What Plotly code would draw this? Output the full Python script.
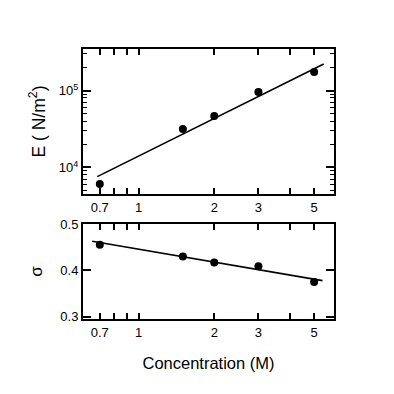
import math
import plotly.graph_objects as go

# ---- data ----
conc = [0.7, 1.5, 2, 3, 5]
modulus = [6.1e3, 3.16e4, 4.66e4, 9.6e4, 1.74e5]
poisson = [0.455, 0.430, 0.417, 0.409, 0.375]

fit_conc_E = [0.684, 5.46]
fit_E = [7.6e3, 2.21e5]
fit_conc_s = [0.653, 5.4]
fit_s = [0.4626, 0.3777]

x_tickvals = [0.7, 1, 2, 3, 5]
x_ticktext = ["0.7", "1", "2", "3", "5"]
x_minorvals = [0.8, 0.9, 4]
e_tickvals = [1e4, 1e5]
e_ticktext = ["10<sup>4</sup>", "10<sup>5</sup>"]
e_minorvals = [5e3, 6e3, 7e3, 8e3, 9e3, 2e4, 3e4, 4e4, 5e4, 6e4, 7e4, 8e4, 9e4, 2e5, 3e5]
s_tickvals = [0.3, 0.4, 0.5]
s_ticktext = ["0.3", "0.4", "0.5"]

FONT = "Liberation Sans, Arial, sans-serif"

fig = go.Figure()
fig.add_trace(go.Scatter(x=fit_conc_E, y=fit_E, mode="lines",
                         line=dict(color="black", width=1.6), xaxis="x", yaxis="y"))
fig.add_trace(go.Scatter(x=conc, y=modulus, mode="markers",
                         marker=dict(color="black", size=8), xaxis="x", yaxis="y"))
fig.add_trace(go.Scatter(x=fit_conc_s, y=fit_s, mode="lines",
                         line=dict(color="black", width=1.6), xaxis="x2", yaxis="y2"))
fig.add_trace(go.Scatter(x=conc, y=poisson, mode="markers",
                         marker=dict(color="black", size=8), xaxis="x2", yaxis="y2"))

axis_common = dict(showline=True, linecolor="black", linewidth=2, mirror="ticks",
                   ticks="inside", tickcolor="black", tickwidth=1.5,
                   showgrid=False, zeroline=False,
                   tickfont=dict(family=FONT, size=13, color="black"))

x_minor = dict(tickmode="array", tickvals=x_minorvals, ticks="inside",
               ticklen=6, tickcolor="black", tickwidth=1.5)

xr = [math.log10(0.6), math.log10(6)]

fig.update_layout(
    width=394, height=394,
    margin=dict(l=75, r=68, t=41, b=83),
    paper_bgcolor="white", plot_bgcolor="white",
    showlegend=False,
    font=dict(family=FONT, color="black"),
    xaxis=dict(type="log", range=xr, domain=[0, 1], anchor="y",
               tickmode="array", tickvals=x_tickvals, ticktext=x_ticktext,
               ticklen=6, minor=x_minor, **axis_common),
    yaxis=dict(type="log", range=[3.655, 5.54], domain=[0.463, 1], anchor="x",
               tickmode="array", tickvals=e_tickvals, ticktext=e_ticktext,
               ticklen=8,
               minor=dict(tickmode="array", tickvals=e_minorvals, ticks="inside",
                          ticklen=4, tickcolor="black", tickwidth=1.2),
               title=dict(text="E ( N/m<sup>2</sup>)", font=dict(family=FONT, size=17.5),
                          standoff=9),
               **axis_common),
    xaxis2=dict(type="log", range=xr, domain=[0, 1], anchor="y2",
                tickmode="array", tickvals=x_tickvals, ticktext=x_ticktext,
                ticklen=6, minor=x_minor,
                title=dict(text="Concentration (M)", font=dict(family=FONT, size=16.5),
                           standoff=19),
                **axis_common),
    yaxis2=dict(range=[0.295, 0.5], domain=[0, 0.352], anchor="x2",
                tickmode="array", tickvals=s_tickvals, ticktext=s_ticktext,
                ticklen=8,
                title=dict(text="σ", font=dict(family=FONT, size=17), standoff=13),
                **axis_common),
)

fig.write_html("out.html")
